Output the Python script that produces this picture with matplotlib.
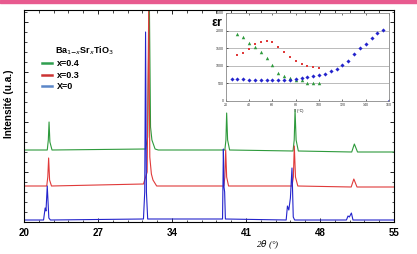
import matplotlib
matplotlib.use('Agg')
import matplotlib.pyplot as plt
from matplotlib.lines import Line2D
from matplotlib.patches import Rectangle

plt.rcParams['font.family'] = ['Liberation Sans', 'DejaVu Sans']

# XRD patterns (2theta in degrees, intensity in arbitrary units, stacked)
tt_blue = [20.0, 21.85, 22.0, 22.08, 22.2, 22.35, 22.5, 31.3, 31.42, 31.5, 31.58, 31.7,
           38.78, 38.86, 38.92, 38.98, 39.05, 44.8, 44.92, 45.05, 45.2, 45.35, 45.47, 45.6,
           50.5, 50.65, 50.78, 50.97, 51.12, 55.0]
i_blue = [2, 2, 14, 11, 36, 4, 2, 3, 30, 190, 30, 3,
          3, 73, 35, 30, 3, 2, 16, 12, 24, 54, 5, 2,
          2, 6, 5, 9, 2, 2]

tt_red = [20.0, 22.15, 22.25, 22.33, 22.42, 22.6, 31.3, 31.65, 31.8, 31.9, 32.05, 32.2, 32.55,
          38.9, 39.0, 39.08, 39.17, 39.35, 45.35, 45.48, 45.57, 45.68, 45.9, 50.95, 51.2, 51.5, 55.0]
i_red = [36, 36, 45, 64, 42, 36, 38, 50, 215, 65, 48, 42, 36,
         36, 45, 72, 45, 36, 36, 45, 76, 45, 36, 35, 43, 35, 35]

tt_green = [20.0, 22.2, 22.3, 22.37, 22.45, 22.65, 31.5, 31.7, 31.85, 31.97, 32.1, 32.4, 32.7,
            39.0, 39.1, 39.17, 39.26, 39.45, 45.45, 45.56, 45.64, 45.74, 45.95, 51.0, 51.25, 51.55, 55.0]
i_green = [72, 72, 82, 100, 80, 72, 73, 85, 230, 95, 82, 73, 72,
           72, 82, 109, 82, 72, 71, 82, 112, 82, 71, 70, 78, 70, 70]

labels = ['x=0.4', 'x=0.3', 'X=0']

# inset: permittivity vs temperature
t_green = [30, 35, 40, 45, 50, 55, 60, 65, 70, 75, 80, 85, 90, 95, 100]
eps_green = [1890, 1820, 1660, 1520, 1400, 1225, 1025, 795, 715, 650, 605, 600, 515, 515, 510]
t_red = [30, 35, 40, 45, 50, 55, 60, 65, 70, 75, 80, 85, 90, 95, 100]
eps_red = [1295, 1360, 1465, 1610, 1685, 1695, 1675, 1530, 1390, 1255, 1130, 1055, 985, 955, 930]
t_blue = [25, 30, 35, 40, 45, 50, 55, 60, 65, 70, 75, 80, 85, 90, 95, 100, 105, 110, 115, 120,
          125, 130, 135, 140, 145, 150, 155, 160]
eps_blue = [620, 620, 615, 610, 605, 600, 600, 600, 600, 600, 610, 620, 640, 690, 705, 725, 770,
            840, 910, 1015, 1150, 1340, 1510, 1630, 1780, 1940, 2010, 0]

c_green = '#2e9a3c'
c_red = '#e03a3a'
c_blue = '#2424cc'

fig = plt.figure(figsize=(4.17, 2.54), dpi=100)
fig.patches.append(Rectangle((0, 1 - 2.5 / 254), 1, 2.5 / 254, transform=fig.transFigure,
                             color='#e85a8f', zorder=10))

ax = fig.add_axes([24 / 417, 32 / 254, 370 / 417, 212 / 254])
ax.plot(tt_green, i_green, color=c_green, lw=0.8)
ax.plot(tt_red, i_red, color=c_red, lw=0.8)
ax.plot(tt_blue, i_blue, color=c_blue, lw=0.8)
ax.set_xlim(20, 55)
ax.set_ylim(0, 212)
ax.set_xticks([20, 27, 34, 41, 48, 55])
ax.set_xticks([20 + 1.4 * k for k in range(26)], minor=True)
ax.set_yticks(range(0, 213, 50))
ax.set_yticks(range(0, 213, 10), minor=True)
ax.tick_params(axis='both', which='both', direction='in', top=True, right=True)
ax.tick_params(axis='both', which='major', length=3, width=0.6)
ax.tick_params(axis='both', which='minor', length=1.8, width=0.5)
ax.tick_params(axis='x', labelsize=7, pad=4.5)
ax.set_yticklabels([])
for lab in ax.get_xticklabels():
    lab.set_fontweight('bold')
for s in ax.spines.values():
    s.set_linewidth(0.8)
ax.set_ylabel('Intensité (u.a.)', fontsize=7.3, fontweight='bold')
ax.yaxis.set_label_coords(-0.028, 0.56)
fig.text(268 / 417, 1 - 245 / 254, r'2$\theta$ (°)', fontsize=6.5, style='italic',
         family='Liberation Serif', ha='center', va='center')

handles = [Line2D([], [], color='#2f9e4f', lw=1.8),
           Line2D([], [], color='#cc3333', lw=1.8),
           Line2D([], [], color='#5b86c8', lw=1.8)]
leg = ax.legend(handles, labels, loc='upper left', bbox_to_anchor=(42 / 417, 1 - 59 / 254),
                bbox_transform=fig.transFigure, frameon=False, borderpad=0, borderaxespad=0,
                handlelength=1.1, handletextpad=0.5, labelspacing=0.3,
                prop={'size': 6.5, 'weight': 'bold'})
fig.text(55 / 417, 1 - 51 / 254, r'Ba$_{1\mathbf{-}x}$Sr$_x$TiO$_3$', fontsize=6.5,
         fontweight='bold', ha='left', va='center')

# inset
ins = fig.add_axes([225.7 / 417, 153 / 254, 163.3 / 417, 88 / 254])
ins.set_facecolor('white')
ins.plot(t_green, eps_green, ls='none', marker='^', ms=2.5, color=c_green, mew=0)
ins.plot(t_red, eps_red, ls='none', marker='s', ms=2.1, color=c_red, mew=0)
ins.plot(t_blue, eps_blue, ls='none', marker='D', ms=2.1, color=c_blue, mew=0)
ins.set_xlim(20, 160)
ins.set_ylim(0, 2500)
ins.set_xticks(range(20, 161, 20))
ins.set_yticks(range(0, 2501, 500))
for y in [500, 1000, 1500, 2000]:
    ins.axhline(y, color='#b0b0b0', lw=0.6, zorder=0)
ins.tick_params(axis='both', direction='in', length=1.5, width=0.4, labelsize=2.6,
                pad=1.5, top=True, labelcolor='#333333')
for s in ins.spines.values():
    s.set_linewidth(0.6)
    s.set_color('#888888')
ins.set_xlabel('T (°C)', fontsize=2.6, labelpad=0.3)
ins.xaxis.set_label_coords(0.45, -0.09)
fig.text(212 / 417, 1 - 23 / 254, 'εr', fontsize=9, fontweight='bold', ha='left', va='center')

plt.savefig('out.png', dpi=100)
